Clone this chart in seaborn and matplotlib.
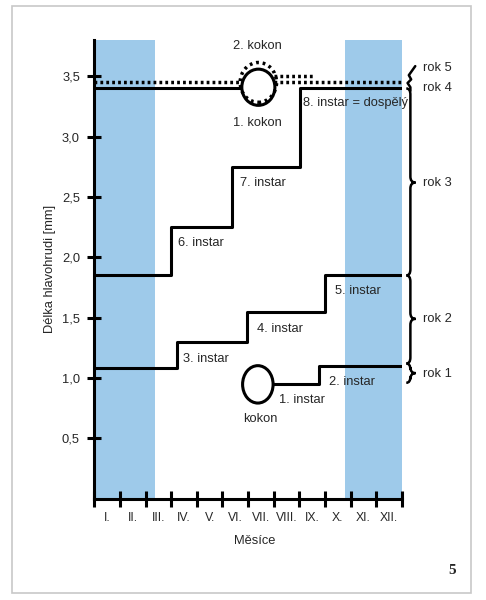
import numpy as np
import seaborn as sns
import matplotlib.pyplot as plt
from matplotlib.patches import Ellipse, Rectangle, PathPatch
from matplotlib.path import Path

# month labels and y ticks
months = ['I.', 'II.', 'III.', 'IV.', 'V.', 'VI.', 'VII.', 'VIII.', 'IX.', 'X.', 'XI.', 'XII.']
yticks = [0.5, 1.0, 1.5, 2.0, 2.5, 3.0, 3.5]

# winter (blue) periods in months
winter = [(0.0, 2.35), (9.77, 12.0)]

# growth staircases: month where each instar starts, carapace length
rok1_x = [6.97, 8.76, 12.0]
rok1_y = [0.95, 1.10, 1.10]
rok2_x = [0.0, 3.22, 5.94, 9.0, 12.0]
rok2_y = [1.08, 1.30, 1.55, 1.85, 1.85]
rok3_x = [0.0, 3.01, 5.39, 8.02, 12.0]
rok3_y = [1.85, 2.25, 2.75, 3.40, 3.40]
rok4_x = [0.0, 5.78]
rok4_y = [3.40, 3.40]
rok5a_x = [0.0, 5.75]
rok5a_y = [3.45, 3.45]
rok5b_x = [7.02, 12.0]
rok5b_y = [3.45, 3.45]
rok5c_x = [7.02, 8.6]
rok5c_y = [3.505, 3.505]

# cocoons (center x, center y)
kokon0 = (6.38, 0.947)
kokon1 = (6.40, 3.41)
kokon2 = (6.40, 3.45)

# text labels (x, y, text)
instar_labels = [
    (7.2, 0.817, '1. instar'),
    (9.15, 0.965, '2. instar'),
    (3.45, 1.16, '3. instar'),
    (6.34, 1.41, '4. instar'),
    (9.38, 1.72, '5. instar'),
    (3.26, 2.12, '6. instar'),
    (5.68, 2.62, '7. instar'),
    (8.13, 3.28, '8. instar = dospělý'),
]
kokon_labels = [(6.46, 0.66, 'kokon'), (6.38, 3.11, '1. kokon'), (6.38, 3.75, '2. kokon')]
rok_labels = [(1.03, 'rok 1'), (1.49, 'rok 2'), (2.62, 'rok 3'), (3.40, 'rok 4'), (3.57, 'rok 5')]
# braces (bottom, top, tip)
braces = [(0.96, 1.12, 1.04), (1.12, 1.85, 1.49), (1.85, 3.40, 2.62)]

sns.set_theme(style='white')
plt.rcParams['font.family'] = ['Liberation Sans', 'DejaVu Sans']

fig = plt.figure(figsize=(4.86, 6), dpi=100)
ax = fig.add_axes([0.194, 0.169, 0.633, 0.764])

for a, b in winter:
    ax.axvspan(a, b, color='#9ecaea', lw=0, zorder=0)

lw = 2.2
for xs, ys in [(rok1_x, rok1_y), (rok2_x, rok2_y), (rok3_x, rok3_y), (rok4_x, rok4_y)]:
    sns.lineplot(x=xs, y=ys, ax=ax, drawstyle='steps-post', color='black', lw=lw,
                 solid_capstyle='butt')
for xs, ys in [(rok5a_x, rok5a_y), (rok5b_x, rok5b_y), (rok5c_x, rok5c_y)]:
    sns.lineplot(x=xs, y=ys, ax=ax, color='black', lw=2.5,
                 linestyle=(0, (0.8, 0.9)), dash_capstyle='butt')

ax.add_patch(Ellipse(kokon0, 1.19, 0.31, fill=False, ec='black', lw=lw))
ax.add_patch(Ellipse(kokon1, 1.29, 0.30, fill=False, ec='black', lw=lw))
ax.add_patch(Ellipse(kokon2, 1.42, 0.33, fill=False, ec='black', lw=2.5,
                     linestyle=(0, (0.8, 1.1))))

fs = 9.3
for x, y, t in instar_labels:
    ax.text(x, y, t, fontsize=fs, ha='left', va='center')
for x, y, t in kokon_labels:
    ax.text(x, y, t, fontsize=fs, ha='center', va='center')
for y, t in rok_labels:
    ax.text(12.82, y, t, fontsize=fs, ha='left', va='center', clip_on=False)


def brace(ax, x, y0, y1, ym, hx=0.16, tx=0.2, hy=0.05):
    verts = [(x - hx, y1), (x, y1), (x, y1 - hy),
             (x, ym + hy), (x, ym), (x + tx, ym),
             (x, ym), (x, ym - hy),
             (x, y0 + hy), (x, y0), (x - hx, y0)]
    codes = [Path.MOVETO, Path.CURVE3, Path.CURVE3,
             Path.LINETO, Path.CURVE3, Path.CURVE3,
             Path.CURVE3, Path.CURVE3,
             Path.LINETO, Path.CURVE3, Path.CURVE3]
    ax.add_patch(PathPatch(Path(verts, codes), fill=False, ec='black', lw=1.8,
                           clip_on=False))


for y0, y1, ym in braces:
    brace(ax, 12.33, y0, y1, ym)

# squiggle for rok 4 / rok 5
ax.plot([12.33, 12.33, 12.22, 12.36, 12.27, 12.52],
        [3.38, 3.41, 3.445, 3.475, 3.51, 3.585],
        color='black', lw=1.8, clip_on=False)

ax.set_xlim(0, 12)
ax.set_ylim(0, 3.8)
sns.despine(ax=ax)
for s in ['left', 'bottom']:
    ax.spines[s].set_linewidth(2.2)
    ax.spines[s].set_color('black')

ax.set_xticks(range(0, 13))
ax.set_xticklabels([])
ax.set_xticks(np.arange(0.5, 12, 1), minor=True)
ax.set_xticklabels(months, minor=True, fontsize=8.8)
ax.tick_params(axis='x', which='major', direction='inout', length=11, width=2.2,
               color='black', bottom=True)
ax.tick_params(axis='x', which='minor', length=0, pad=10, bottom=True)

ax.set_yticks(yticks)
ax.set_yticklabels([f'{v:.1f}'.replace('.', ',') for v in yticks], fontsize=fs)
ax.tick_params(axis='y', direction='inout', length=10, width=2.2, color='black',
               pad=5.3, left=True)

ax.set_xlabel('Měsíce', fontsize=fs)
ax.xaxis.set_label_coords(0.521, -0.08)
ax.set_ylabel('Délka hlavohrudi [mm]', fontsize=fs)
ax.yaxis.set_label_coords(-0.125, 0.5)

fig.add_artist(Rectangle((12 / 486, 7 / 600), 459 / 486, 587 / 600,
                         transform=fig.transFigure, fill=False, ec='#c8c8c8', lw=1.2))
fig.text(452 / 486, 1 - 570 / 600, '5', fontfamily='Liberation Serif',
         fontweight='bold', fontsize=11, ha='center', va='center')

fig.savefig('out.png', dpi=100)
